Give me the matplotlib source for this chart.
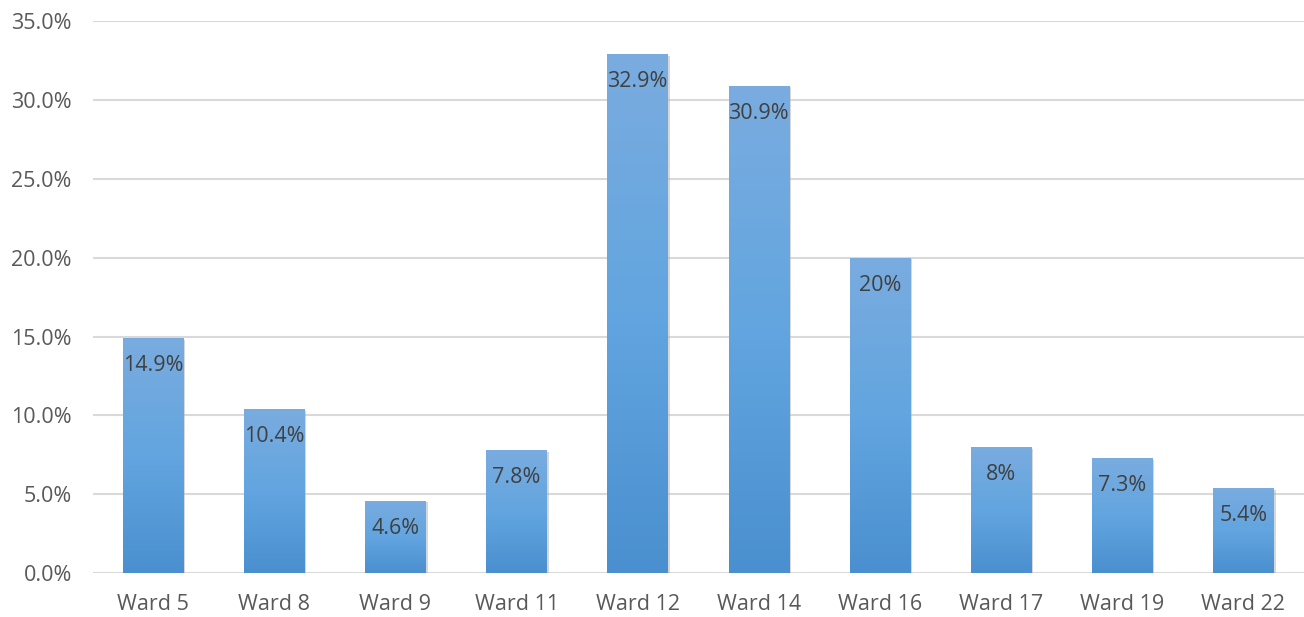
import numpy as np
import matplotlib.pyplot as plt
from matplotlib.patches import Rectangle
from matplotlib.colors import LinearSegmentedColormap

wards = ['Ward 5', 'Ward 8', 'Ward 9', 'Ward 11', 'Ward 12',
         'Ward 14', 'Ward 16', 'Ward 17', 'Ward 19', 'Ward 22']
values = [14.9, 10.4, 4.6, 7.8, 32.9, 30.9, 20.0, 8.0, 7.3, 5.4]
labels = ['14.9%', '10.4%', '4.6%', '7.8%', '32.9%', '30.9%', '20%', '8%', '7.3%', '5.4%']
yticks = [0, 5, 10, 15, 20, 25, 30, 35]

plt.rcParams['font.family'] = ['Open Sans', 'DejaVu Sans']

fig = plt.figure(figsize=(13.04, 6.17), dpi=100)
ax = fig.add_axes([0.071, 0.071, 0.929, 0.895])

x = np.arange(len(wards))
width = 0.5
cmap = LinearSegmentedColormap.from_list('bar', ['#4a8fcf', '#62a5e0', '#7aacdf'])
grad = np.linspace(0, 1, 256).reshape(-1, 1)

for xi, v in zip(x, values):
    # light shadow
    shadow = Rectangle((xi - width / 2 + 0.015, 0), width, v - 0.1,
                       facecolor='#b0b0b0', edgecolor='none', alpha=0.5, zorder=2)
    ax.add_patch(shadow)
    rect = Rectangle((xi - width / 2, 0), width, v, facecolor='none',
                     edgecolor='none', zorder=3)
    ax.add_patch(rect)
    im = ax.imshow(grad, cmap=cmap, aspect='auto', origin='lower',
                   extent=(xi - width / 2, xi + width / 2, 0, v), zorder=3)
    im.set_clip_path(rect)

for xi, v, lab in zip(x, values, labels):
    ax.annotate(lab, (xi, v), xytext=(0, -20), textcoords='offset points',
                ha='center', va='center', fontsize=15.5, color='#404040', zorder=4)

ax.set_xlim(-0.5, len(wards) - 0.5)
ax.set_ylim(0, 35)
ax.set_xticks(x)
ax.set_xticklabels(wards)
ax.set_yticks(yticks)
ax.set_yticklabels([f'{t:.1f}%' for t in yticks])
ax.tick_params(axis='both', length=0, labelsize=15.5, colors='#595959')
ax.tick_params(axis='y', pad=15)
ax.tick_params(axis='x', pad=15)
ax.grid(axis='y', color='#d9d9d9', linewidth=1.5, zorder=0)
ax.set_axisbelow(True)
for s in ax.spines.values():
    s.set_visible(False)

fig.savefig('out.png', dpi=100)
